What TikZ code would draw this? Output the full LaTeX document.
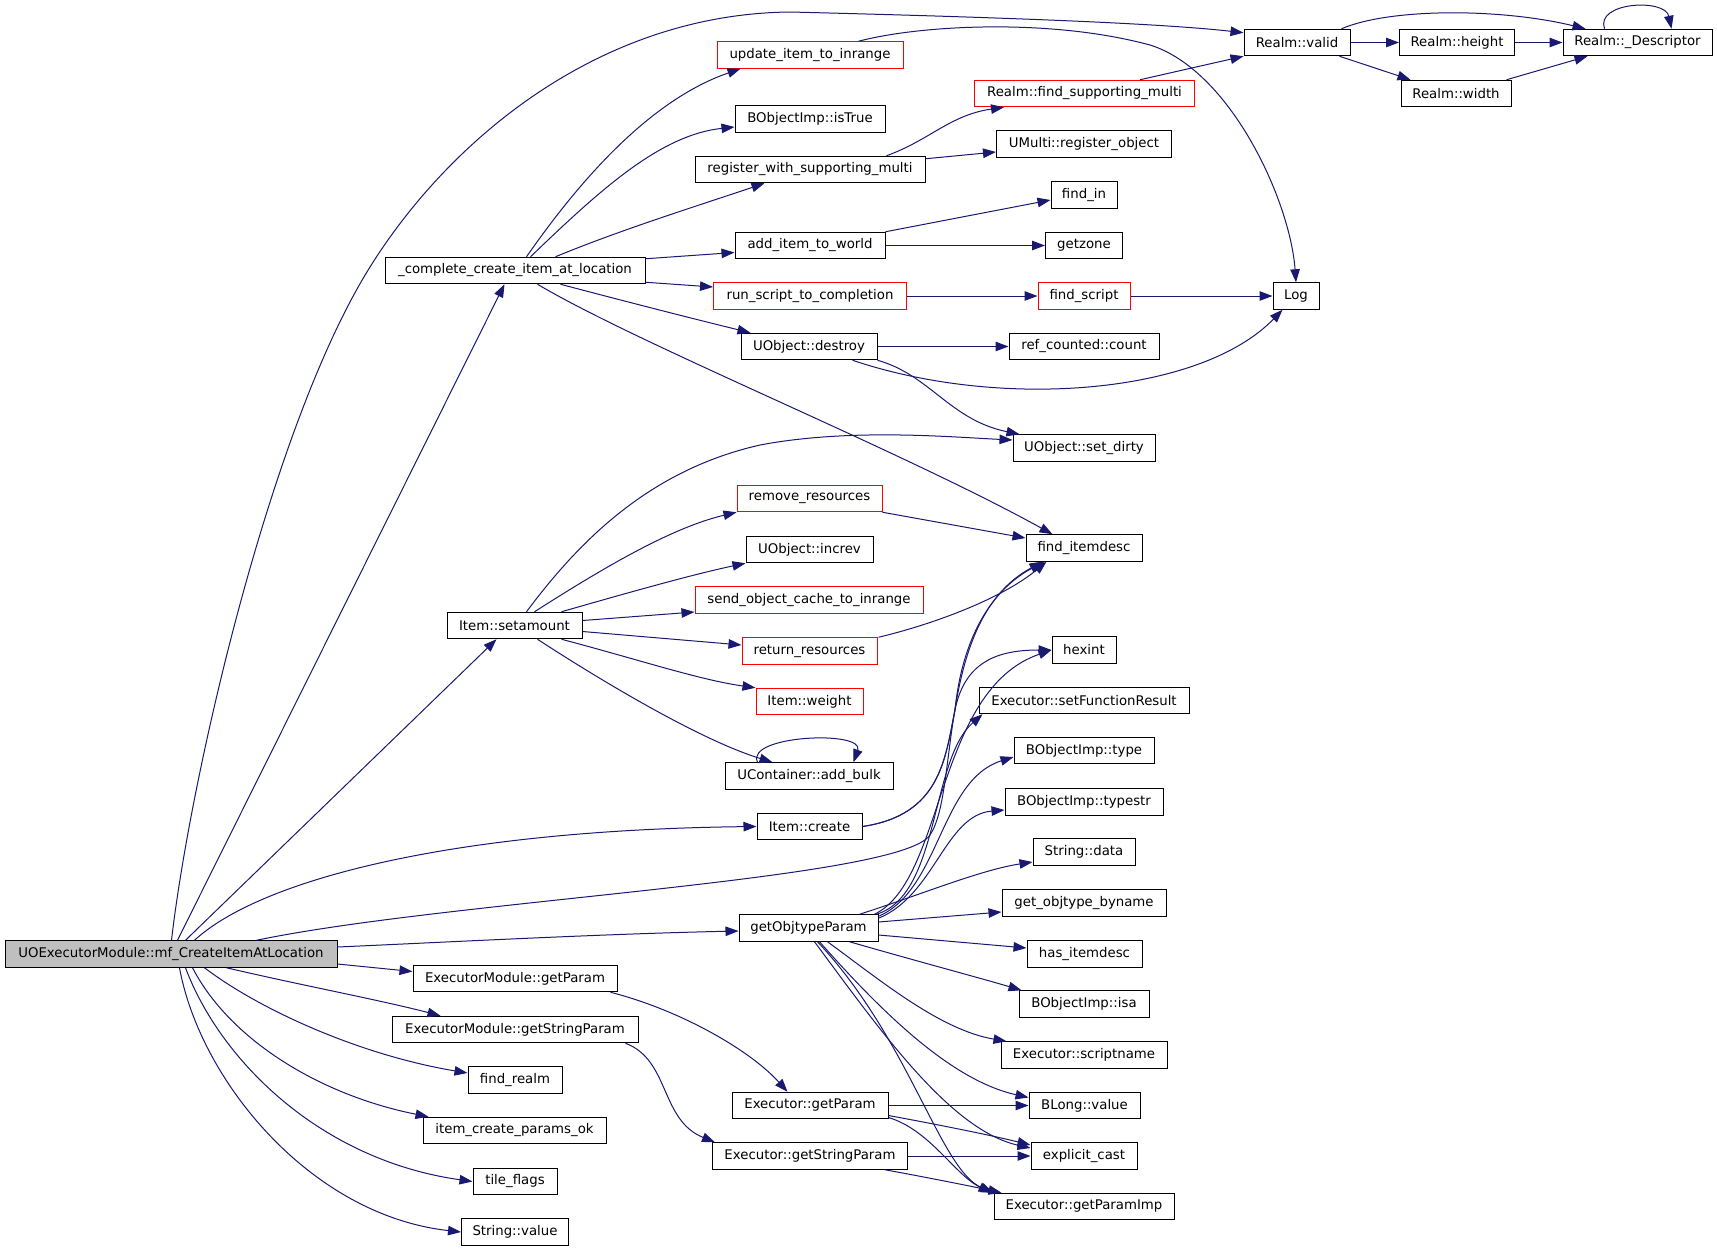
\documentclass[tikz,border=0pt]{standalone}
\usepackage{fontspec}
\setmainfont{DejaVu Sans}
\usetikzlibrary{arrows.meta,calc}
\definecolor{edgec}{HTML}{191970}
\definecolor{redc}{HTML}{FF0000}
\definecolor{grayc}{HTML}{BFBFBF}
\begin{document}
\begin{tikzpicture}[x=1pt,y=-1pt,
  fn/.style={draw=black, line width=1pt, rectangle, inner sep=0pt, minimum height=26.5pt, font=\fontsize{13.3}{16}\selectfont, text=black},
  fnred/.style={fn, draw=redc},
  e/.style={draw=edgec, line width=1pt, -{Triangle[length=13pt,width=9.5pt]}}]
\useasboundingbox (0,0) rectangle (1717,1251);
\fill[white] (0,0) rectangle (1717,1251);

% column 1
\node[fn, fill=grayc, minimum width=332] (main) at (171,954) {UOExecutorModule::mf\_CreateItemAtLocation};
% column 2
\node[fn, minimum width=260] (complete) at (515,270.5) {\_complete\_create\_item\_at\_location};
\node[fn, minimum width=135] (setamount) at (514.5,625.5) {Item::setamount};
\node[fn, minimum width=204] (emgetparam) at (515,978.5) {ExecutorModule::getParam};
\node[fn, minimum width=246] (emgetstr) at (515,1029.5) {ExecutorModule::getStringParam};
\node[fn, minimum width=94] (findrealm) at (515,1080) {find\_realm};
\node[fn, minimum width=183] (itemok) at (514.5,1130.5) {item\_create\_params\_ok};
\node[fn, minimum width=84] (tileflags) at (515,1181.5) {tile\_flags};
\node[fn, minimum width=107] (strvalue) at (515,1232) {String::value};
% column 3
\node[fnred, minimum width=186] (update) at (810,55) {update\_item\_to\_inrange};
\node[fn, minimum width=150] (istrue) at (810,119) {BObjectImp::isTrue};
\node[fn, minimum width=230] (register) at (810,169.5) {register\_with\_supporting\_multi};
\node[fn, minimum width=150] (additem) at (810,245.5) {add\_item\_to\_world};
\node[fnred, minimum width=193] (runscript) at (810,296) {run\_script\_to\_completion};
\node[fn, minimum width=136] (destroy) at (809,346.5) {UObject::destroy};
\node[fnred, minimum width=145] (removeres) at (809.5,498.5) {remove\_resources};
\node[fn, minimum width=127] (increv) at (809.5,549.5) {UObject::increv};
\node[fnred, minimum width=228] (sendobj) at (809,600) {send\_object\_cache\_to\_inrange};
\node[fnred, minimum width=135] (returnres) at (809.5,651) {return\_resources};
\node[fnred, minimum width=107] (weight) at (809.5,701.5) {Item::weight};
\node[fn, minimum width=168] (addbulk) at (809,776) {UContainer::add\_bulk};
\node[fn, minimum width=105] (itemcreate) at (809.5,826.5) {Item::create};
\node[fn, minimum width=139] (getobj) at (808.5,928) {getObjtypeParam};
\node[fn, minimum width=156] (exgetparam) at (810,1105.5) {Executor::getParam};
\node[fn, minimum width=195] (exgetstr) at (810,1156) {Executor::getStringParam};
% column 4
\node[fnred, minimum width=220] (findsm) at (1084.5,93.5) {Realm::find\_supporting\_multi};
\node[fn, minimum width=175] (umulti) at (1084,144) {UMulti::register\_object};
\node[fn, minimum width=66] (findin) at (1084,195) {find\_in};
\node[fn, minimum width=77] (getzone) at (1084,245.5) {getzone};
\node[fnred, minimum width=92] (findscript) at (1084,296) {find\_script};
\node[fn, minimum width=150] (refcount) at (1084,346.5) {ref\_counted::count};
\node[fn, minimum width=142] (setdirty) at (1084,448) {UObject::set\_dirty};
\node[fn, minimum width=116] (finditemdesc) at (1084,548) {find\_itemdesc};
\node[fn, minimum width=64] (hexint) at (1084,650) {hexint};
\node[fn, minimum width=210] (setfr) at (1084,700.5) {Executor::setFunctionResult};
\node[fn, minimum width=140] (bt) at (1084,750.5) {BObjectImp::type};
\node[fn, minimum width=158] (btstr) at (1084,802) {BObjectImp::typestr};
\node[fn, minimum width=102] (sdata) at (1084,852) {String::data};
\node[fn, minimum width=164] (gob) at (1084,903) {get\_objtype\_byname};
\node[fn, minimum width=115] (hasid) at (1084.5,954) {has\_itemdesc};
\node[fn, minimum width=130] (isa) at (1084,1004) {BObjectImp::isa};
\node[fn, minimum width=166] (scriptname) at (1084,1055) {Executor::scriptname};
\node[fn, minimum width=111] (blong) at (1084.5,1105.5) {BLong::value};
\node[fn, minimum width=106] (explicit) at (1084,1156) {explicit\_cast};
\node[fn, minimum width=180] (gpimp) at (1084,1206.5) {Executor::getParamImp};
% columns 5-7
\node[fn, minimum width=106] (valid) at (1297,42.5) {Realm::valid};
\node[fn, minimum width=46] (log) at (1296,296) {Log};
\node[fn, minimum width=115] (rheight) at (1457,42.5) {Realm::height};
\node[fn, minimum width=110] (rwidth) at (1456,93.5) {Realm::width};
\node[fn, minimum width=149] (desc) at (1637.5,42.5) {Realm::\_Descriptor};

% edges from main
\draw[e] ($(main.north west)+(173,0)$) -- ($(complete.south west)+(120,0)$);
\draw[e] ($(main.north west)+(181,0)$) -- ($(setamount.south west)+(50,0)$);
\draw[e] ($(main.north west)+(190,0)$) .. controls (260,880) and (450,830) .. (itemcreate.west);
\draw[e] ($(main.north west)+(167,0)$) .. controls (190,780) and (270,427) .. (370,267) .. controls (450,139) and (600,14) .. (790,12) .. controls (950,16) and (1150,22) .. ($(valid.north west)+(0,4)$);
\draw[e] ($(main.east)+(0,-7)$) .. controls (450,942) and (600,934) .. ($(getobj.west)+(0,3)$);
\draw[e] ($(main.east)+(0,10)$) -- ($(emgetparam.west)+(0,-7)$);
\draw[e] ($(main.south west)+(222,0)$) .. controls (300,985) and (380,1000) .. ($(emgetstr.north west)+(49,0)$);
\draw[e] ($(main.south west)+(200,0)$) .. controls (260,1010) and (360,1055) .. ($(findrealm.west)+(0,-7)$);
\draw[e] ($(main.south west)+(188,0)$) .. controls (230,1040) and (320,1095) .. ($(itemok.north west)+(6,0)$);
\draw[e] ($(main.south west)+(181,0)$) .. controls (220,1060) and (320,1160) .. (tileflags.west);
\draw[e] ($(main.south west)+(175,0)$) .. controls (200,1080) and (310,1215) .. (strvalue.west);
\draw[e] ($(main.north west)+(252,0)$) .. controls (450,900) and (900,880) .. (930,835) .. controls (960,790) and (935,620) .. ($(finditemdesc.south west)+(17,0)$);

% edges from _complete_create_item_at_location
\draw[e] ($(complete.north west)+(142,0)$) .. controls (580,180) and (650,100) .. ($(update.south west)+(24,0)$);
\draw[e] ($(complete.north west)+(146,0)$) .. controls (600,190) and (660,135) .. ($(istrue.west)+(0,8)$);
\draw[e] ($(complete.north west)+(171,0)$) .. controls (620,230) and (700,205) .. ($(register.south west)+(70,0)$);
\draw[e] ($(complete.north east)+(0,2)$) -- ($(additem.west)+(0,7)$);
\draw[e] ($(complete.south east)+(0,-2)$) -- ($(runscript.west)+(0,-9)$);
\draw[e] ($(complete.south west)+(176,0)$) .. controls (620,300) and (690,318) .. ($(destroy.north west)+(10,0)$);
\draw[e] ($(complete.south west)+(153,0)$) .. controls (640,345) and (900,450) .. ($(finditemdesc.north west)+(27,0)$);

% realm part
\draw[e] ($(register.north west)+(192,0)$) .. controls (930,140) and (950,115) .. ($(findsm.south west)+(30,0)$);
\draw[e] ($(register.north east)+(0,3)$) -- ($(umulti.west)+(0,8)$);
\draw[e] ($(findsm.north west)+(166,0)$) -- (valid.south west);
\draw[e] (valid) -- (rheight);
\draw[e] ($(valid.south east)+(-11,0)$) -- ($(rwidth.north west)+(10,0)$);
\draw[e] ($(valid.north east)+(-9,0)$) .. controls (1390,8) and (1500,8) .. ($(desc.north west)+(23,0)$);
\draw[e] (rheight) -- (desc);
\draw[e] ($(rwidth.north east)+(-5,0)$) -- ($(desc.south west)+(25,0)$);
\draw[e] ($(desc.north west)+(42,0)$) .. controls (1595,2) and (1665,-2) .. ($(desc.north west)+(109,0)$);

% world / script / destroy
\draw[e] (additem.north east) -- ($(findin.west)+(0,5)$);
\draw[e] (additem) -- (getzone);
\draw[e] (runscript) -- (findscript);
\draw[e] (findscript) -- (log);
\draw[e] (destroy) -- (refcount);
\draw[e] (destroy.south east) .. controls (930,375) and (950,420) .. ($(setdirty.north west)+(7,0)$);
\draw[e] ($(destroy.south west)+(112,0)$) .. controls (1000,410) and (1200,395) .. ($(log.south west)+(10,0)$);
\draw[e] ($(update.north east)+(-45,0)$) .. controls (920,25) and (1050,18) .. (1150,45) .. controls (1230,70) and (1290,200) .. (log.north);

% Item::setamount
\draw[e] ($(setamount.north west)+(80,0)$) .. controls (580,540) and (650,470) .. (760,445) .. controls (850,428) and (950,437) .. ($(setdirty.west)+(0,-8)$);
\draw[e] ($(setamount.north west)+(88,0)$) .. controls (600,570) and (670,528) .. (removeres.south west);
\draw[e] ($(setamount.north west)+(115,0)$) .. controls (620,595) and (690,575) .. (increv.south west);
\draw[e] ($(setamount.east)+(0,-5)$) -- ($(sendobj.west)+(0,12)$);
\draw[e] ($(setamount.east)+(0,6)$) -- ($(returnres.west)+(0,-6)$);
\draw[e] ($(setamount.south west)+(115,0)$) .. controls (640,660) and (700,680) .. (weight.north west);
\draw[e] ($(setamount.south west)+(91,0)$) .. controls (600,680) and (700,740) .. ($(addbulk.north west)+(48,0)$);
\draw[e] ($(addbulk.north west)+(33,0)$) .. controls (745,735) and (865,730) .. ($(addbulk.north east)+(-40,0)$);

% resources
\draw[e] (removeres.south east) -- ($(finditemdesc.west)+(0,-10)$);
\draw[e] ($(returnres.north east)+(1,0)$) .. controls (930,625) and (1000,600) .. ($(finditemdesc.south west)+(21,0)$);

% Item::create
\draw[e] (itemcreate.east) .. controls (940,815) and (945,760) .. (955,710) .. controls (965,660) and (1000,650) .. (hexint.west);
\draw[e] (itemcreate.east) .. controls (940,815) and (945,760) .. (955,710) .. controls (962,640) and (990,590) .. ($(finditemdesc.south west)+(19,0)$);

% getObjtypeParam
\draw[e] ($(getobj.north east)+(-4,0)$) .. controls (945,880) and (935,690) .. (hexint.west);
\draw[e] ($(getobj.north east)+(-2,0)$) .. controls (940,895) and (930,760) .. ($(setfr.south west)+(4,0)$);
\draw[e] ($(getobj.north east)+(0,2)$) .. controls (940,890) and (940,780) .. ($(bt.west)+(0,6.5)$);
\draw[e] ($(getobj.north east)+(0,4)$) .. controls (935,895) and (945,815) .. ($(btstr.west)+(0,8)$);
\draw[e] ($(getobj.north east)+(-19,0)$) .. controls (920,895) and (980,870) .. ($(sdata.west)+(0,10)$);
\draw[e] ($(getobj.east)+(0,-6)$) -- ($(gob.west)+(0,9)$);
\draw[e] ($(getobj.east)+(0,7)$) -- ($(hasid.west)+(0,-6)$);
\draw[e] ($(getobj.south west)+(111,0)$) .. controls (920,962) and (980,978) .. ($(isa.north west)+(3,0)$);
\draw[e] ($(getobj.south west)+(89,0)$) .. controls (880,980) and (940,1030) .. ($(scriptname.north west)+(6,0)$);
\draw[e] ($(getobj.south west)+(81,0)$) .. controls (880,1010) and (950,1080) .. ($(blong.west)+(0,-8)$);
\draw[e] ($(getobj.south west)+(76,0)$) .. controls (880,1030) and (950,1130) .. ($(explicit.west)+(0,-8)$);
\draw[e] ($(getobj.south west)+(79,0)$) .. controls (910,1040) and (940,1170) .. (gpimp.north west);

% Executor params
\draw[e] ($(emgetparam.south east)+(-7,0)$) .. controls (680,1010) and (750,1050) .. ($(exgetparam.north west)+(56,0)$);
\draw[e] ($(emgetstr.south east)+(-13,0)$) .. controls (670,1060) and (660,1120) .. ($(exgetstr.north west)+(3,0)$);
\draw[e] (exgetparam) -- (blong);
\draw[e] ($(exgetparam.east)+(0,10)$) .. controls (940,1125) and (990,1135) .. ($(explicit.west)+(0,-11)$);
\draw[e] ($(exgetparam.east)+(0,12)$) .. controls (930,1130) and (955,1175) .. ($(gpimp.north west)+(-2,0)$);
\draw[e] (exgetstr) -- (explicit);
\draw[e] ($(exgetstr.south east)+(-23,0)$) .. controls (930,1178) and (970,1186) .. ($(gpimp.north west)+(8,0)$);
\end{tikzpicture}
\end{document}
